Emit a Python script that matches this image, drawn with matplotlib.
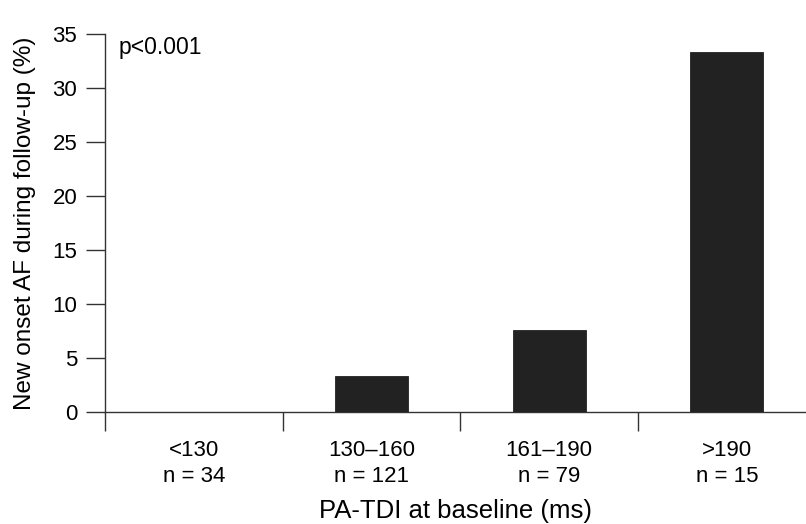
import matplotlib
matplotlib.use("Agg")
import matplotlib.pyplot as plt
import numpy as np

plt.rcParams['font.family'] = ['Liberation Sans', 'DejaVu Sans']

categories = ["<130", "130–160", "161–190", ">190"]
group_sizes = [34, 121, 79, 15]
af_percent = [0.0, 3.3, 7.6, 33.3]
y_ticks = [0, 5, 10, 15, 20, 25, 30, 35]

fig = plt.figure(figsize=(8.06, 5.24), dpi=100)
ax = fig.add_axes([105 / 806, 1 - 412 / 524, 1 - 105 / 806, (412 - 34) / 524])

x = np.arange(len(categories))
ax.bar(x, af_percent, width=0.41, color="#222222", edgecolor="#222222", linewidth=0.6, zorder=3)

ax.set_xlim(-0.5, 3.445)
ax.set_ylim(0, 35)
ax.set_yticks(y_ticks)
ax.tick_params(axis='y', direction='out', length=14, width=1.0, color="#333333",
               labelsize=16, pad=6)

# category boundaries carry the ticks, centres carry the labels
ax.set_xticks(np.arange(len(categories)) - 0.5)
ax.set_xticklabels([])
ax.set_xticks(x, minor=True)
ax.set_xticklabels([f"{c}\nn = {n}" for c, n in zip(categories, group_sizes)], minor=True)
ax.tick_params(axis='x', which='major', direction='out', length=14, width=1.0, color="#333333")
ax.tick_params(axis='x', which='minor', length=0, labelsize=16, pad=20)
for lbl in ax.get_xticklabels(minor=True):
    lbl.set_linespacing(1.3)

for side in ("top", "right"):
    ax.spines[side].set_visible(False)
for side in ("left", "bottom"):
    ax.spines[side].set_color("#333333")
    ax.spines[side].set_linewidth(1.0)

ax.set_ylabel("New onset AF during follow-up (%)", fontsize=17.5, labelpad=12)
ax.set_xlabel("PA-TDI at baseline (ms)", fontsize=18.5, labelpad=9)

ax.text(0.019, 0.963, "p<0.001", transform=ax.transAxes, fontsize=16.5,
        ha="left", va="center")

fig.savefig("out.png", dpi=100)
